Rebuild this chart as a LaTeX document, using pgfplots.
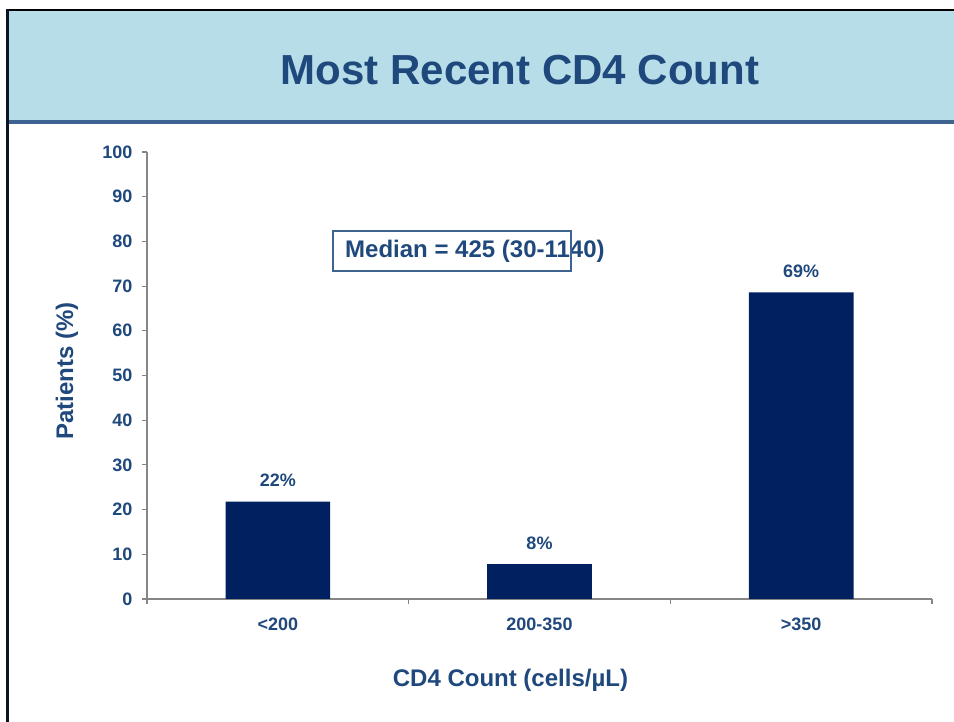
\documentclass[border=0pt]{standalone}
\usepackage{pgfplots}
\pgfplotsset{compat=1.18}
\usepackage{fontspec}
\setmainfont{Liberation Sans}
\definecolor{hdr}{RGB}{183,221,232}
\definecolor{hdrline}{RGB}{62,99,145}
\definecolor{txt}{RGB}{31,73,125}
\definecolor{barc}{RGB}{0,32,96}
\definecolor{axg}{RGB}{134,134,134}
\definecolor{frm}{RGB}{10,20,35}
\newcommand{\fs}[1]{\fontsize{#1}{#1}\selectfont}
\begin{document}
\begin{tikzpicture}[x=1pt,y=1pt]
\path[use as bounding box, fill=white] (0,0) rectangle (954,722);
\fill[hdr] (8,601) rectangle (954,711);
\fill[hdrline] (8,598) rectangle (954,601.5);
\fill[black] (6,711) rectangle (954,713);
\fill[frm] (6,0) rectangle (8.5,713);
\node[text=txt, font=\bfseries\fs{42}, anchor=base, inner sep=0] at (520,637) {Most Recent CD4 Count};
\begin{axis}[
  at={(147pt,123pt)}, anchor=south west,
  scale only axis, width=785pt, height=447pt,
  xmin=-0.5, xmax=2.5, ymin=0, ymax=100,
  axis x line*=bottom, axis y line*=left,
  axis line style={-, draw=axg, line width=1.1pt},
  xtick={-0.5,0.5,1.5,2.5}, xticklabels={},
  extra x ticks={0,1,2},
  extra x tick labels={{<200},{200-350},{>350}},
  extra x tick style={major tick length=0pt, xticklabel style={yshift=-15pt}},
  ytick={0,10,...,100},
  tick align=outside,
  major tick length=5pt,
  tick style={draw=axg, line width=1.1pt},
  ticklabel style={font=\bfseries\fs{18}, text=txt},
  yticklabel style={xshift=-6pt},
  /pgf/number format/assume math mode=true,
  ybar, bar width=0.4,
  nodes near coords, point meta=explicit symbolic,
  nodes near coords style={font=\bfseries\fs{18}, text=txt, anchor=center, yshift=21pt},
  xlabel={CD4 Count (cells/µL)},
  xlabel style={at={(axis description cs:0.463,-0.181)}, anchor=center, font=\bfseries\fs{24}, text=txt},
  ylabel={Patients (\%)},
  ylabel style={at={(axis description cs:-0.102,0.51)}, anchor=center, font=\bfseries\fs{24}, text=txt},
]
\addplot[fill=barc, draw=none] coordinates {(0,21.8) [22\%] (1,7.8) [8\%] (2,68.6) [69\%]};
\end{axis}
\node[anchor=base west, text=txt, font=\bfseries\fs{24}, inner sep=0] at (345,464.7) {Median = 425 (30-1140)};
\draw[hdrline, line width=2pt] (333,451) rectangle (571,491);
\end{tikzpicture}
\end{document}
